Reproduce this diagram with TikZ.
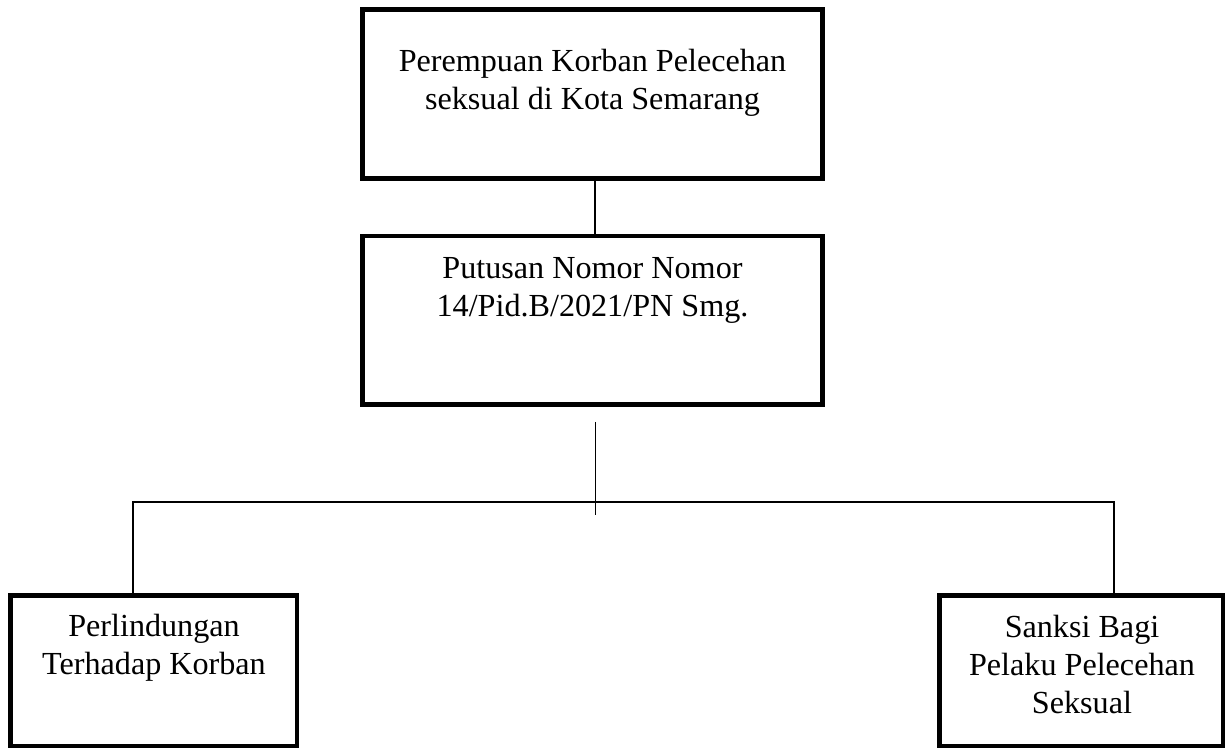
\documentclass[tikz,border=0pt]{standalone}
\usepackage{fontspec}
\setmainfont{Liberation Serif}
\usepackage{tikz}
\usetikzlibrary{calc,positioning}
\tikzset{
  casebox/.style={draw=black, line width=2.7pt, fill=white, inner sep=0pt},
  casetext/.style={align=center, anchor=base, inner sep=0pt, font=\fontsize{18.3}{21.8}\selectfont},
  caseline/.style={draw=black, line width=0.8pt}
}

\begin{document}
\begin{tikzpicture}[x=0.02cm,y=-0.02cm]
  \useasboundingbox (0,0) rectangle (1228,749);

  % top and middle boxes
  \node[casebox, minimum width=9.2cm, minimum height=3.38cm] (victim) at (592.5,94) {};
  \node[casebox, minimum width=9.2cm, minimum height=3.37cm] (verdict) at (592.5,320.25) {};
  \node[casetext] (victimtxt) at (592.5,110) {Perempuan Korban Pelecehan\\seksual di Kota Semarang};
  \node[casetext] (verdicttxt) at (592.5,316.5) {Putusan Nomor Nomor\\14/Pid.B/2021/PN Smg.};

  % bottom boxes
  \node[casebox, minimum width=5.73cm, minimum height=3.01cm] (protect) at (153.75,670.75) {};
  \node[casebox, minimum width=5.67cm, minimum height=3.01cm] (sanction) at (1081.25,670.75) {};
  \node[casetext] (protecttxt) at (154,675) {Perlindungan\\Terhadap Korban};
  \node[casetext] (sanctiontxt) at (1082,714) {Sanksi Bagi\\Pelaku Pelecehan\\Seksual};

  % connectors
  \draw[caseline] (victim.south -| 595,0) -- (verdict.north -| 595,0);

  \coordinate (splittop) at (595.5,422);
  \coordinate (splitbot) at (595.5,515);
  \coordinate (lhook) at (133,502);
  \coordinate (rhook) at (1114,502);
  \draw[caseline] (splittop) -- (splitbot);
  \draw[caseline] (lhook |- protect.north) -- (lhook) -- (rhook) -- (rhook |- sanction.north);

\end{tikzpicture}
\end{document}
